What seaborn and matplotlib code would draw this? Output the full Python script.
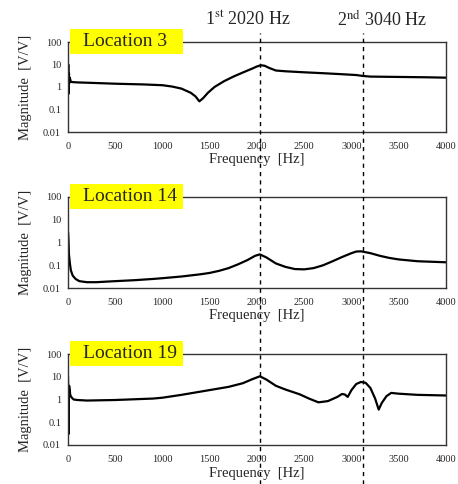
import numpy as np
import pandas as pd
import matplotlib
matplotlib.use("Agg")
import matplotlib.pyplot as plt
import matplotlib.transforms as mtransforms
from matplotlib.patches import Rectangle
import seaborn as sns

# values (frequency in Hz, magnitude in V/V)
freq_loc3 = [0, 3, 6, 10, 15, 20, 30, 50, 100, 300, 500, 800, 1000, 1100, 1200, 1300, 1350,
             1390, 1430, 1480, 1550, 1650, 1750, 1850, 1950, 2000, 2040, 2080, 2130, 2200,
             2300, 2500, 2700, 2900, 3050, 3120, 3200, 3500, 3800, 4000]
mag_loc3 = [1.0, 10.0, 0.5, 4.0, 1.5, 2.5, 1.7, 1.65, 1.6, 1.5, 1.4, 1.3, 1.2, 1.05, 0.85, 0.55, 0.38,
            0.23, 0.32, 0.55, 1.0, 1.8, 2.9, 4.4, 6.6, 8.2, 9.3, 8.8, 7.0, 5.4,
            5.0, 4.5, 4.1, 3.7, 3.4, 3.1, 2.9, 2.8, 2.7, 2.6]

freq_loc14 = [0, 3, 6, 10, 20, 30, 50, 80, 120, 200, 300, 400, 500, 700, 900, 1000, 1200,
              1400, 1500, 1600, 1700, 1800, 1900, 1980, 2030, 2100, 2200, 2300, 2400, 2500,
              2600, 2700, 2800, 2900, 3000, 3050, 3100, 3200, 3300, 3400, 3500, 3700, 4000]
mag_loc14 = [3.0, 2.0, 1.0, 0.3, 0.12, 0.06, 0.035, 0.025, 0.02, 0.018, 0.018, 0.019, 0.02, 0.022,
             0.025, 0.027, 0.032, 0.04, 0.046, 0.057, 0.075, 0.11, 0.17, 0.26, 0.3, 0.22, 0.12,
             0.085, 0.068, 0.066, 0.075, 0.1, 0.15, 0.23, 0.34, 0.4, 0.41, 0.34, 0.26, 0.21,
             0.18, 0.15, 0.135]

freq_loc19 = [0, 2, 5, 8, 12, 18, 25, 40, 60, 100, 200, 500, 900, 1000, 1200, 1500, 1700, 1850,
              1950, 2030, 2100, 2200, 2300, 2450, 2550, 2650, 2750, 2850, 2900, 2930, 2960,
              3000, 3050, 3100, 3150, 3200, 3250, 3288, 3320, 3370, 3420, 3500, 3700, 4000]
mag_loc19 = [10.0, 3.0, 0.03, 0.5, 4.0, 2.5, 1.5, 1.2, 1.0, 0.95, 0.9, 0.95, 1.1, 1.2, 1.6, 2.6,
             3.6, 5.2, 7.8, 10.5, 7.5, 4.0, 2.75, 1.7, 1.1, 0.75, 0.85, 1.3, 1.75, 1.65, 1.3,
             2.6, 4.8, 5.9, 5.4, 3.2, 1.1, 0.36, 0.7, 1.4, 1.95, 1.8, 1.6, 1.5]

locations = ["Location 3", "Location 14", "Location 19"]
series = [(freq_loc3, mag_loc3), (freq_loc14, mag_loc14), (freq_loc19, mag_loc19)]
mode_freqs = [2030, 3120]
mode_labels = ["1$^{\\mathrm{st}}$ 2020 Hz", "2$^{\\mathrm{nd}}$ 3040 Hz"]
mode_label_x = [1905, 3320]
x_ticks = list(range(0, 4001, 500))
y_ticks = [0.01, 0.1, 1, 10, 100]
y_tick_labels = ["0.01", "0.1", "1", "10", "100"]

sns.set_style("white")
plt.rcParams["font.family"] = ["Liberation Serif", "DejaVu Serif"]
plt.rcParams["mathtext.fontset"] = "stix"

fig = plt.figure(figsize=(4.58, 4.84), dpi=100)
W, H = 458, 484
panels = [(42, 132), (197, 288), (354, 445)]
axes = []
for (top, bottom), loc, (fx, my) in zip(panels, locations, series):
    ax = fig.add_axes([68 / W, 1 - bottom / H, (446 - 68) / W, (bottom - top) / H])
    df = pd.DataFrame({"Frequency": fx, "Magnitude": my})
    sns.lineplot(data=df, x="Frequency", y="Magnitude", ax=ax, color="black", linewidth=1.6)
    ax.set_yscale("log")
    ax.set_xlim(0, 4000)
    ax.set_ylim(0.01, 100)
    ax.set_xticks(x_ticks)
    ax.set_xticklabels([str(t) for t in x_ticks])
    ax.set_yticks(y_ticks)
    ax.set_yticklabels(y_tick_labels)
    ax.minorticks_off()
    ax.tick_params(length=0, labelsize=7.5)
    ax.tick_params(axis="x", pad=7)
    ax.tick_params(axis="y", pad=5)
    ax.set_xlabel("Frequency  [Hz]", fontsize=10.5, labelpad=2)
    ax.set_ylabel("Magnitude  [V/V]", fontsize=10.5, labelpad=8)
    for s in ax.spines.values():
        s.set_color("#333333")
        s.set_linewidth(1.0)
    h = bottom - top
    # yellow label box sitting on the top spine
    ax.add_patch(Rectangle((2 / 378, (bottom - 54 - (top - 42)) / h), 113 / 378, 25 / h,
                           transform=ax.transAxes, facecolor="#FFFF00", edgecolor="none",
                           clip_on=False, zorder=9))
    ax.text(15 / 378, 1.0 + 0.5 / h, loc, transform=ax.transAxes, fontsize=14, ha="left",
            va="center", zorder=10)
    axes.append(ax)

# dashed mode lines spanning the whole figure
tr = mtransforms.blended_transform_factory(axes[0].transData, fig.transFigure)
for f, lab, lx in zip(mode_freqs, mode_labels, mode_label_x):
    fig.add_artist(plt.Line2D([f, f], [0.0, 1 - 33 / H], transform=tr, color="black",
                              linestyle=(0, (3, 3)), linewidth=1.0, zorder=20))
    axes[0].text(lx, 1 - 20 / H, lab, transform=tr, ha="center", va="center",
                 fontsize=13, clip_on=False)

fig.savefig("out.png", dpi=100)
